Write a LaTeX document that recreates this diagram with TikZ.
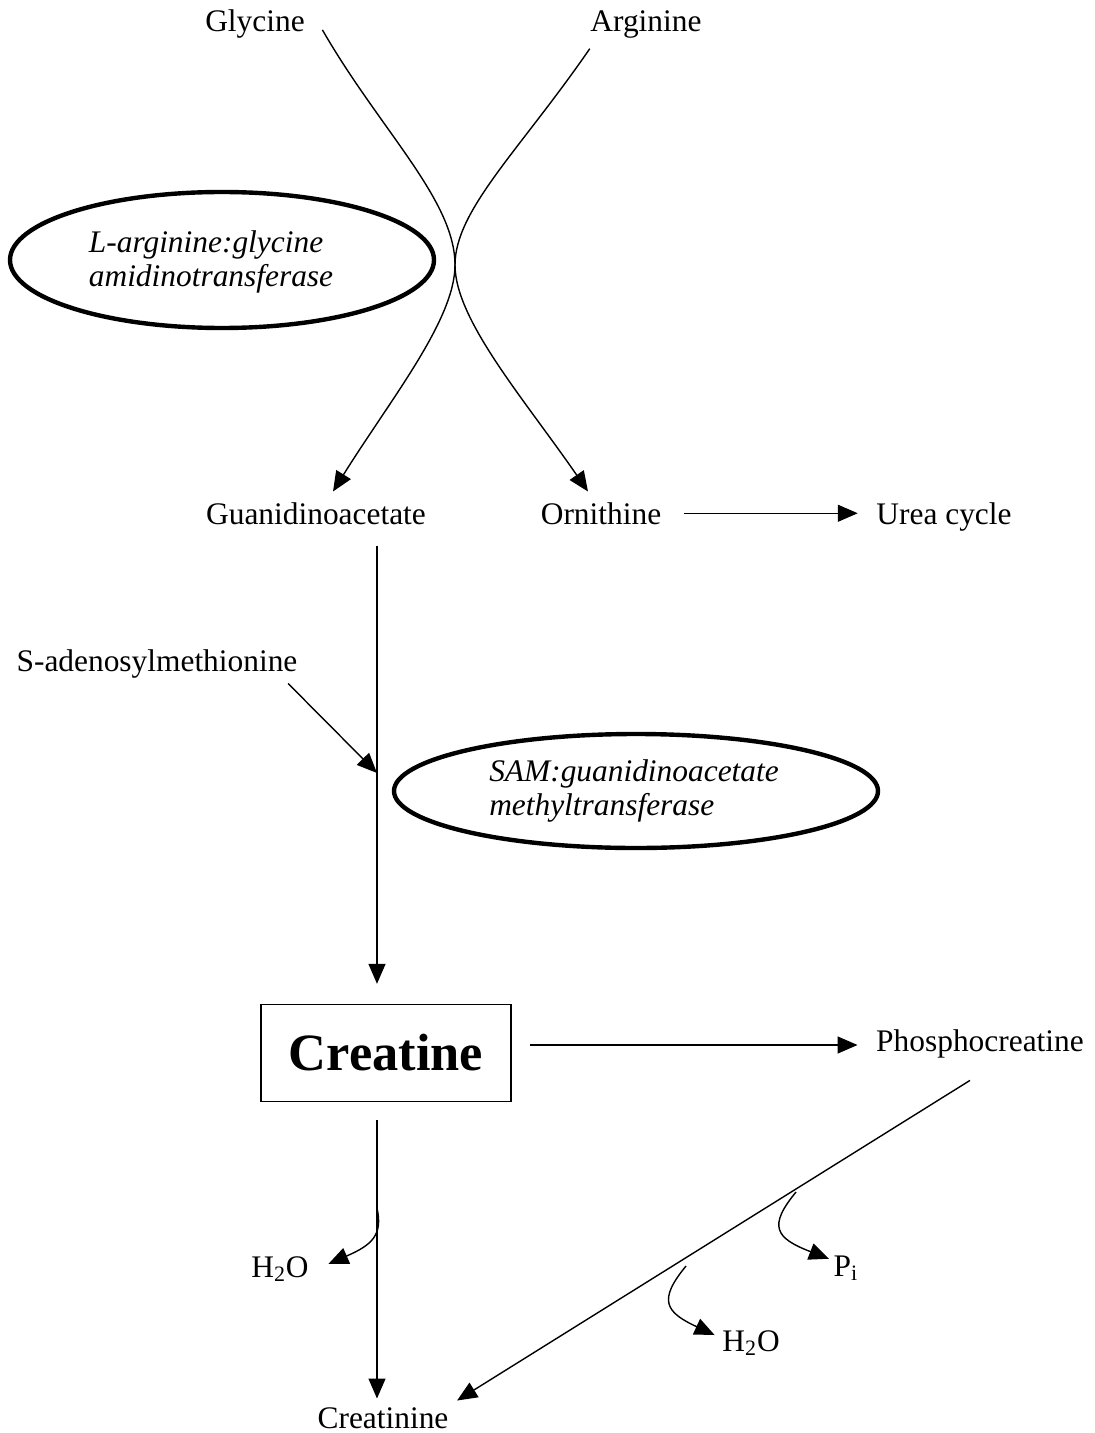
\documentclass[tikz,border=0pt]{standalone}
\usepackage{fontspec}
\setmainfont{Liberation Serif}
\usetikzlibrary{arrows.meta,shapes.geometric,positioning}

\begin{document}
\begin{tikzpicture}[x=0.5pt,y=-0.5pt,line width=0.7pt,
  >={Triangle[length=10pt,width=8.5pt]},
  mol/.style={inner sep=0pt,anchor=base,font=\fontsize{15.7}{18}\selectfont},
  enz/.style={inner sep=0pt,align=left,font=\fontsize{15.7}{17}\selectfont\itshape},
  ring/.style={draw,ellipse,line width=2.2pt,inner sep=0pt}]

  \useasboundingbox (0,0) rectangle (1095,1433);

  % Molecules
  \node[mol] (gly)   at (255,32)   {Glycine};
  \node[mol] (arg)   at (646,32)   {Arginine};
  \node[mol] (guan)  at (316,524)  {Guanidinoacetate};
  \node[mol] (orn)   at (601,524)  {Ornithine};
  \node[mol] (urea)  at (944,524)  {Urea cycle};
  \node[mol] (sadm)  at (157,671)  {S-adenosylmethionine};
  \node[mol] (phos)  at (980,1051) {Phosphocreatine};
  \node[mol] (crea)  at (383,1428) {Creatinine};
  \node[mol] (h2oa)  at (280,1277) {H\textsubscript{2}O};
  \node[mol] (pi)    at (846,1276) {P\textsubscript{i}};
  \node[mol] (h2ob)  at (751,1351) {H\textsubscript{2}O};

  \node[draw,inner sep=0pt,minimum width=125pt,minimum height=48.5pt,
        font=\fontsize{26.2}{30}\selectfont\bfseries] (cre) at (386,1053) {Creatine};

  % Enzymes
  \node[ring,minimum width=212pt,minimum height=68pt] (agat) at (222,260) {};
  \node[enz] (agatt) at (211,262) {L-arginine:glycine\\amidinotransferase};
  \node[ring,minimum width=242pt,minimum height=57pt] (gamt) at (636,791) {};
  \node[enz] (gamtt) at (634,791) {SAM:guanidinoacetate\\methyltransferase};

  % Points on the paths
  \coordinate (kiss) at (455,265);
  \coordinate (meet) at (377,773);
  \coordinate (w1)   at (377,1208);
  \coordinate (pb1)  at (796,1192);
  \coordinate (pb2)  at (686,1266);

  % Transamidination
  \draw[->] ([xshift=8.5pt,yshift=-2.7pt]gly.east)
     .. controls (380,130) and (455,200) .. (kiss)
     .. controls (455,320) and (525,400) .. ([xshift=-6.5pt,yshift=5pt]orn.north);
  \draw[->] ([yshift=-4.6pt]arg.south west)
     .. controls (520,150) and (455,210) .. (kiss)
     .. controls (455,320) and (390,400) .. ([xshift=8.5pt,yshift=5pt]guan.north);
  \draw[->] ([xshift=11pt]orn.east) -- ([xshift=-9pt]urea.west |- orn.east);

  % Methylation
  \draw[->] ([xshift=30.5pt,yshift=-10.5pt]guan.south) -- ([xshift=-4.5pt,yshift=10pt]cre.north);
  \draw[->] ([xshift=-5pt,yshift=-2.5pt]sadm.south east) -- (meet);

  % Creatine fate
  \draw[->] ([xshift=9pt,yshift=4pt]cre.east) -- ([xshift=-9pt,yshift=4pt]cre.east -| phos.west);
  \draw[->] ([xshift=-4.5pt,yshift=-9pt]cre.south) -- ([xshift=-3pt,yshift=4pt]crea.north);
  \draw[->] ([xshift=-5pt,yshift=-11pt]phos.south) -- ([xshift=4pt,yshift=3pt]crea.north east);

  % Released groups
  \draw[->] (w1) .. controls (383,1235) and (372,1245) .. ([xshift=9.5pt,yshift=2.5pt]h2oa.east);
  \draw[->] (pb1) .. controls (768,1226) and (775,1238) .. ([xshift=-2pt,yshift=-2pt]pi.north west);
  \draw[->] (pb2) .. controls (658,1300) and (665,1312) .. ([xshift=-3.5pt,yshift=-2.75pt]h2ob.north west);
\end{tikzpicture}
\end{document}
